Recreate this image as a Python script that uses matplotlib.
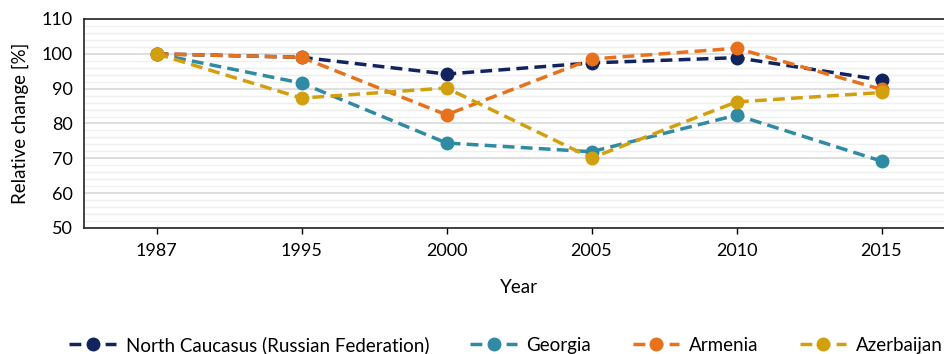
import matplotlib
matplotlib.use("Agg")
from matplotlib import pyplot as plt
from matplotlib.ticker import MultipleLocator

plt.rcParams['font.family'] = ['Lato', 'DejaVu Sans']

years = ['1987', '1995', '2000', '2005', '2010', '2015']
north_caucasus = [100, 99.0, 94.2, 97.4, 98.9, 92.5]
georgia = [100, 91.6, 74.4, 71.9, 82.4, 69.2]
armenia = [100, 99.0, 82.5, 98.5, 101.6, 89.8]
azerbaijan = [100, 87.3, 90.2, 70.1, 86.2, 88.9]

series = [
    ('North Caucasus (Russian Federation)', north_caucasus, '#11245e'),
    ('Georgia', georgia, '#2f8aa3'),
    ('Armenia', armenia, '#e8711b'),
    ('Azerbaijan', azerbaijan, '#d2a00d'),
]

fig = plt.figure(figsize=(9.44, 3.54), dpi=100)
ax = fig.add_axes([84 / 944, 1 - 228 / 354, 870 / 944, 209 / 354])

x = range(len(years))
for name, vals, col in series:
    ax.plot(x, vals, color=col, lw=2.5, ls=(0, (3.4, 1.8)), marker='o',
            ms=9, label=name, zorder=3)

ax.set_xlim(-0.5, len(years) - 0.5)
ax.set_ylim(50, 110)
ax.set_xticks(list(x))
ax.set_xticklabels(years)
ax.yaxis.set_major_locator(MultipleLocator(10))
ax.yaxis.set_minor_locator(MultipleLocator(2))
ax.grid(which='major', axis='y', color='#d9d9d9', lw=1.2, zorder=0)
ax.grid(which='minor', axis='y', color='#efefef', lw=1.0, zorder=0)
ax.tick_params(axis='y', which='both', length=0, labelsize=13, pad=8)
ax.tick_params(axis='x', length=4, width=1, labelsize=13, pad=7, direction='out')
for s in ax.spines.values():
    s.set_color('#222222')
    s.set_linewidth(1.2)

ax.set_xlabel('Year', fontsize=13.5, labelpad=14)
ax.set_ylabel('Relative change [%]', fontsize=13.5, labelpad=9)

fig.legend(loc='center', bbox_to_anchor=(506 / 944, 1 - 345 / 354), ncol=4,
           frameon=False, fontsize=13.5, handlelength=2.5, columnspacing=2.2,
           handletextpad=0.5)

fig.savefig('out.png', dpi=100)
